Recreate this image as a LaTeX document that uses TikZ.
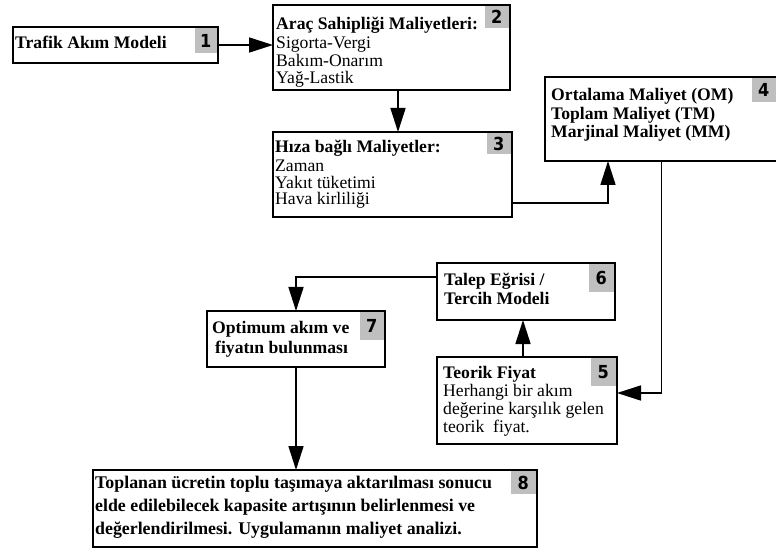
\documentclass[tikz,border=0pt]{standalone}
\usepackage{fontspec}
\setmainfont{Liberation Serif}
\newfontfamily\tagfont{DejaVu Sans Condensed}
\usetikzlibrary{arrows.meta}

\begin{document}
\begin{tikzpicture}[
    x=1bp, y=-1bp,
    box/.style={draw, line width=2bp, outer sep=0pt, inner sep=0pt, anchor=north west},
    tag/.style={fill=black!25, anchor=north east, inner sep=0pt, minimum width=24bp,
      minimum height=24bp, font=\tagfont\bfseries\fontsize{18}{18}\selectfont},
    txt/.style={anchor=base west, align=left, inner sep=0pt, font=\fontsize{17.7}{18}\selectfont},
    link/.style={draw, line width=1.6bp, -{Triangle[length=24bp,width=15bp]}},
  ]
  \useasboundingbox (0,0) rectangle (776,551);

  % 1
  \node[box, minimum width=205bp, minimum height=36bp] (b1) at (13,27) {};
  \node[tag, minimum width=22bp, minimum height=25bp] (n1) at ([xshift=-1bp,yshift=-1bp]b1.north east) {1};
  \node[txt] (t1) at (15,49) {\textbf{Trafik Akım Modeli}};

  % 2 (text placed by its last baseline)
  \node[box, minimum width=237bp, minimum height=85bp] (b2) at (273,5) {};
  \node[tag, minimum height=22bp] (n2) at ([xshift=-1bp,yshift=-1bp]b2.north east) {2};
  \node[txt] (t2) at (276,84) {\textbf{Araç Sahipliği Maliyetleri:}\\[1bp]
    Sigorta-Vergi\\ Bakım-Onarım\\ Yağ-Lastik};

  % 3
  \node[box, minimum width=239bp, minimum height=85bp] (b3) at (273,132) {};
  \node[tag, minimum height=21bp] (n3) at ([xshift=-1bp,yshift=-1bp]b3.north east) {3};
  \node[txt, font=\fontsize{17.7}{16.5}\selectfont] (t3) at (275,204.5) {\textbf{Hıza bağlı Maliyetler:}\\[3bp]
    Zaman\\ Yakıt tüketimi\\ Hava kirliliği};

  % 4
  \node[box, minimum width=233bp, minimum height=84bp] (b4) at (545,77) {};
  \node[tag] (n4) at ([xshift=-2bp,yshift=-1bp]b4.north east) {4};
  \node[txt, font=\bfseries\fontsize{17.7}{19}\selectfont] (t4) at (551,138) {Ortalama Maliyet (OM)\\
    Toplam Maliyet (TM)\\ Marjinal Maliyet (MM)};

  % 5
  \node[box, minimum width=180bp, minimum height=87bp] (b5) at (437,357) {};
  \node[tag, minimum width=25bp, minimum height=28bp] (n5) at ([xshift=-1bp,yshift=-1bp]b5.north east) {5};
  \node[txt] (t5) at (443,432) {\textbf{Teorik Fiyat}\\
    Herhangi bir akım\\ değerine karşılık gelen\\ teorik\ \ fiyat.};

  % 6
  \node[box, minimum width=178bp, minimum height=57bp] (b6) at (437,263) {};
  \node[tag, minimum width=25bp, minimum height=28bp] (n6) at ([xshift=-1bp,yshift=-1bp]b6.north east) {6};
  \node[txt, font=\bfseries\fontsize{17.7}{20}\selectfont] (t6) at (444,305) {Talep Eğrisi /\\ Tercih Modeli};

  % 7
  \node[box, minimum width=178bp, minimum height=56bp] (b7) at (207,311) {};
  \node[tag, minimum width=24bp, minimum height=28bp] (n7) at ([xshift=-1bp,yshift=-1bp]b7.north east) {7};
  \node[txt, font=\bfseries\fontsize{17.7}{20}\selectfont] (t7) at (212,353) {Optimum akım ve\\
    \hspace*{3bp}fiyatın bulunması};

  % 8
  \node[box, minimum width=444bp, minimum height=77bp] (b8) at (93,470) {};
  \node[tag, minimum width=25bp, minimum height=23bp] (n8) at ([xshift=-1bp,yshift=-1bp]b8.north east) {8};
  \node[txt, font=\bfseries\fontsize{17.9}{23}\selectfont] (t8) at (95,534) {Toplanan ücretin toplu taşımaya aktarılması sonucu\\
    elde edilebilecek kapasite artışının belirlenmesi ve\\
    değerlendirilmesi. Uygulamanın maliyet analizi.};

  % connectors
  \draw[link] (b1.east) -- (b1.east -| b2.west);
  \draw[link] ([xshift=6.5bp]b2.south) -- ([xshift=6.5bp]b2.south |- b3.north);
  \draw[link] ([yshift=-28.5bp]b3.east) -| ([xshift=-53.5bp]b4.south);
  \draw[link] (b4.south) |- ([yshift=7.5bp]b5.east);
  \draw[link] ([xshift=-4bp]b5.north) -- ([xshift=-4bp]b5.north |- b6.south);
  \draw[link] ([yshift=14.5bp]b6.west) -| (b7.north);
  \draw[link] (b7.south) -- (b7.south |- b8.north);
\end{tikzpicture}
\end{document}
